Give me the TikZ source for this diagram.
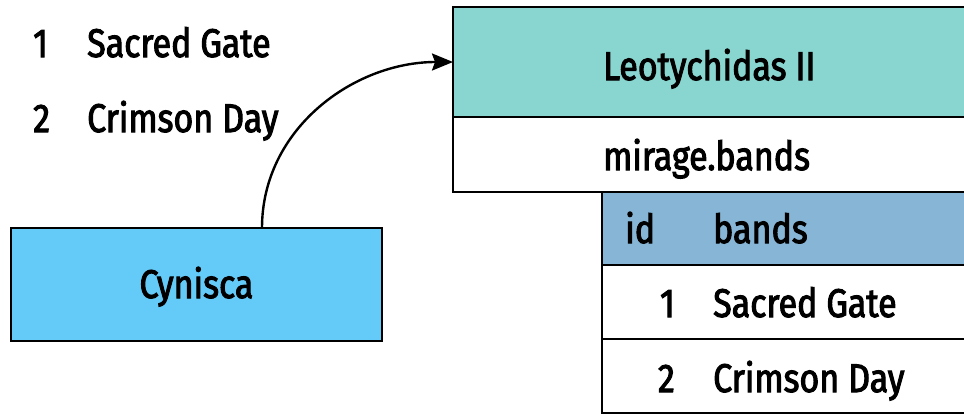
\documentclass[tikz,border=0pt]{standalone}
\usepackage{fontspec}
\setmainfont{Fira Sans}[FakeStretch=0.85,FakeBold=2.5]
\usetikzlibrary{calc,arrows.meta}
\definecolor{headteal}{RGB}{137,213,207}
\definecolor{headblue}{RGB}{135,181,214}
\definecolor{boxcyan}{RGB}{100,203,248}

\begin{document}
\begin{tikzpicture}[x=1pt,y=-1pt,
  box/.style={draw, line width=2.6pt, rectangle, inner sep=0pt, outer sep=0pt},
  lbl/.style={anchor=base west, inner sep=0pt, font=\fontsize{40}{48}\selectfont},
  num/.style={lbl, anchor=base east},
  conn/.style={line width=2.4pt, -{Stealth[length=21pt,width=17pt,inset=3pt]}}]
\useasboundingbox (0,0) rectangle (964,416);

\node[lbl] (na) at (33,57) {1};
\node[lbl] (ta) at (87,57) {Sacred Gate};
\node[lbl] (nb) at (33,132) {2};
\node[lbl] (tb) at (87,132) {Crimson Day};

\node[box, fill=boxcyan, minimum width=371pt, minimum height=113pt] (cyn) at (196.5,284.5) {};
\node[lbl, anchor=base] (cyntxt) at (196.5,298) {Cynisca};

\node[box, fill=headteal, minimum width=547pt, minimum height=110pt] (leo) at (726.5,62) {};
\node[box, fill=white, minimum width=547pt, minimum height=75pt] (mir) at (726.5,154.5) {};
\node[box, fill=headblue, minimum width=398pt, minimum height=73pt] (hdr) at (801,228.5) {};
\node[box, fill=white, minimum width=398pt, minimum height=74pt] (rowa) at (801,302) {};
\node[box, fill=white, minimum width=398pt, minimum height=74pt] (rowb) at (801,376) {};

\node[lbl] (leotxt) at (603,80) {Leotychidas II};
\node[lbl] (mirtxt) at (603,170) {mirage.bands};
\node[lbl] (idtxt) at (625,243) {id};
\node[lbl] (bandtxt) at (713,243) {bands};
\node[num] (ra) at (675,317) {1};
\node[lbl] (rta) at (713,317) {Sacred Gate};
\node[num] (rb) at (675,392) {2};
\node[lbl] (rtb) at (713,392) {Crimson Day};

\draw[conn] ($(cyn.north)+(65.5,0)$) to[out=90,in=180] (leo.west);
\end{tikzpicture}
\end{document}
